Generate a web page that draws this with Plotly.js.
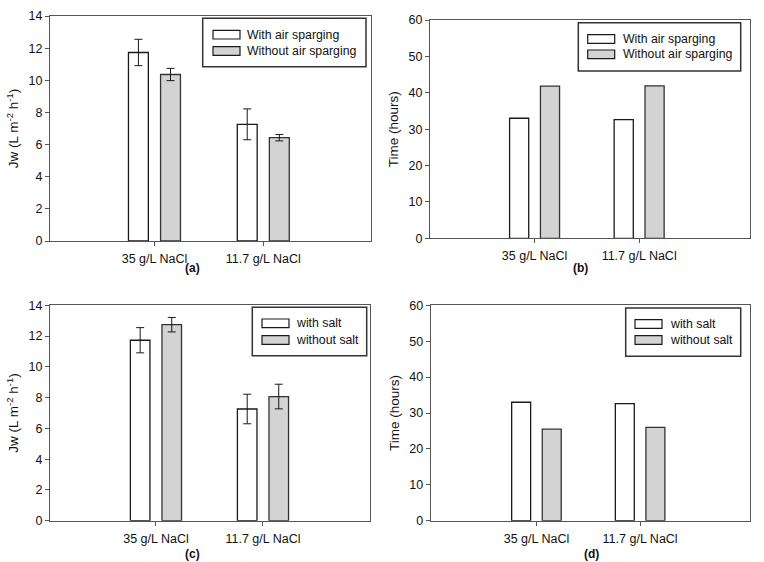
<!DOCTYPE html>
<html><head><meta charset="utf-8">
<script src="https://cdn.plot.ly/plotly-3.0.1.min.js"></script>
<style>html,body{margin:0;padding:0;background:#fff}#chart{width:764px;height:562px}</style>
</head><body><div id="chart"></div>
<script>
// ---- data ----
var categories = ['35 g/L NaCl', '11.7 g/L NaCl'];

var fluxWithAir = [11.73, 7.26];
var fluxWithAirErr = [0.82, 0.96];
var fluxWithoutAir = [10.36, 6.43];
var fluxWithoutAirErr = [0.38, 0.20];

var timeWithAir = [33.0, 32.6];
var timeWithoutAir = [41.8, 41.9];

var fluxWithSalt = [11.73, 7.26];
var fluxWithSaltErr = [0.82, 0.96];
var fluxWithoutSalt = [12.74, 8.07];
var fluxWithoutSaltErr = [0.47, 0.80];

var timeWithSalt = [33.0, 32.6];
var timeWithoutSalt = [25.5, 26.0];

var airLabels = ['With air sparging', 'Without air sparging'];
var saltLabels = ['with salt', 'without salt'];
var panelLabels = ['(a)', '(b)', '(c)', '(d)'];

// ---- styling ----
var W = 764, H = 562;
function px(x){return x / W;}
function py(y){return 1 - y / H;}
var FONT = 'Liberation Sans, Arial, sans-serif';
var whiteFill = '#ffffff', grayFill = '#d3d3d3';
var outline = {color: '#1a1a1a', width: 1.3};
var outlineGray = {color: '#333333', width: 1.3};

function bar(x, y, fill, line, xa, ya, err){
  var t = {type: 'bar', x: x, y: y, xaxis: xa, yaxis: ya, showlegend: false,
    marker: {color: fill, line: line}, hoverinfo: 'y'};
  if (err) t.error_y = {type: 'data', array: err, visible: true, color: '#1a1a1a', thickness: 1, width: 4};
  return t;
}

var data = [
  bar(categories, fluxWithAir, whiteFill, outline, 'x', 'y', fluxWithAirErr),
  bar(categories, fluxWithoutAir, grayFill, outlineGray, 'x', 'y', fluxWithoutAirErr),
  bar(categories, timeWithAir, whiteFill, outline, 'x2', 'y2'),
  bar(categories, timeWithoutAir, grayFill, outlineGray, 'x2', 'y2'),
  bar(categories, fluxWithSalt, whiteFill, outline, 'x3', 'y3', fluxWithSaltErr),
  bar(categories, fluxWithoutSalt, grayFill, outlineGray, 'x3', 'y3', fluxWithoutSaltErr),
  bar(categories, timeWithSalt, whiteFill, outline, 'x4', 'y4'),
  bar(categories, timeWithoutSalt, grayFill, outlineGray, 'x4', 'y4')
];

function xax(domain, range, anchor){
  return {domain: domain, range: range, anchor: anchor, type: 'category',
    showline: true, mirror: true, linecolor: '#555', linewidth: 1,
    ticks: 'outside', ticklen: 4, tickcolor: '#555', showgrid: false, zeroline: false,
    ticklabelstandoff: 2,
    tickfont: {family: FONT, size: 12.5, color: '#111'}, fixedrange: true};
}
function yax(domain, range, dtick, anchor, title){
  return {domain: domain, range: range, dtick: dtick, anchor: anchor,
    showline: true, mirror: true, linecolor: '#555', linewidth: 1,
    ticks: 'outside', ticklen: 4, tickcolor: '#555', showgrid: false, zeroline: false,
    tickfont: {family: FONT, size: 12.5, color: '#111'},
    title: {text: title, font: {family: FONT, size: 13.5, color: '#111'}, standoff: 6}, fixedrange: true};
}

var jwTitle = 'Jw (L m<sup>-2</sup> h<sup>-1</sup>)';
var timeTitle = 'Time (hours)';

var layout = {
  width: W, height: H, margin: {l: 0, r: 0, t: 0, b: 0},
  paper_bgcolor: '#fff', plot_bgcolor: '#fff',
  barmode: 'group', bargap: 0.41, bargroupgap: 0.38,
  showlegend: false,
  font: {family: FONT, color: '#111'},
  xaxis:  xax([px(50), px(371)], [-0.96, 1.99], 'y'),
  yaxis:  yax([py(241), py(16)], [0, 14], 2, 'x', jwTitle),
  xaxis2: xax([px(430), px(750)], [-1.0, 2.06], 'y2'),
  yaxis2: yax([py(238.3), py(20)], [0, 60], 10, 'x2', timeTitle),
  xaxis3: xax([px(50), px(370)], [-0.99, 2.0], 'y3'),
  yaxis3: yax([py(520.7), py(305.3)], [0, 14], 2, 'x3', jwTitle),
  xaxis4: xax([px(430.7), px(750)], [-1.02, 2.06], 'y4'),
  yaxis4: yax([py(520.7), py(305.3)], [0, 60], 10, 'x4', timeTitle),
  shapes: [], annotations: []
};

// custom legends (box, swatches, labels) in paper coordinates
function legend(box, swX, swW, rowsY, textX, labels){
  layout.shapes.push({type: 'rect', xref: 'paper', yref: 'paper',
    x0: px(box[0]), x1: px(box[1]), y0: py(box[3]), y1: py(box[2]),
    line: {color: '#333', width: 1.5}, fillcolor: 'rgba(255,255,255,1)', layer: 'above'});
  var fills = [whiteFill, grayFill];
  for (var i = 0; i < 2; i++){
    layout.shapes.push({type: 'rect', xref: 'paper', yref: 'paper',
      x0: px(swX), x1: px(swX + swW), y0: py(rowsY[i] + 4.3), y1: py(rowsY[i] - 4.3),
      line: {color: '#1a1a1a', width: 1.2}, fillcolor: fills[i], layer: 'above'});
    layout.annotations.push({xref: 'paper', yref: 'paper', x: px(textX), y: py(rowsY[i]),
      xanchor: 'left', yanchor: 'middle', showarrow: false, text: labels[i],
      font: {family: FONT, size: 12.3, color: '#111'}});
  }
}
legend([202.7, 366, 18.3, 66.7], 213, 27, [34.7, 51], 245, airLabels);
legend([578.3, 740.7, 22.7, 71], 587.7, 27, [39, 54.3], 620.5, airLabels);
legend([252.3, 366.7, 307.3, 355.7], 262, 27, [323.3, 340], 294, saltLabels);
legend([625.7, 740.7, 308, 356.3], 635, 27, [324, 340], 667.5, saltLabels);

var labelPos = [[193, 267.5], [580, 267.5], [193, 554], [591, 554]];
for (var k = 0; k < 4; k++){
  layout.annotations.push({xref: 'paper', yref: 'paper', x: px(labelPos[k][0]), y: py(labelPos[k][1]),
    xanchor: 'center', yanchor: 'middle', showarrow: false, text: '<b>' + panelLabels[k] + '</b>',
    font: {family: FONT, size: 12, color: '#111'}});
}

Plotly.newPlot('chart', data, layout, {staticPlot: true, displayModeBar: false});
</script>
</body></html>
